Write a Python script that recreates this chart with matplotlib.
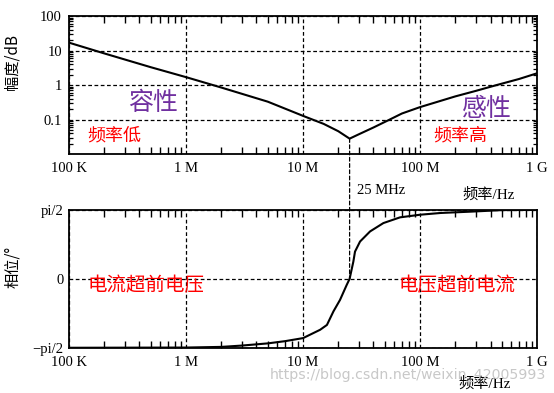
import numpy as np
import matplotlib.pyplot as plt
from matplotlib.patches import ConnectionPatch
from matplotlib.ticker import NullFormatter, FixedLocator

plt.rcParams['font.family'] = ['Liberation Serif', 'Noto Sans CJK SC', 'DejaVu Sans']

# magnitude curve
freq_mag = [1e5, 2e5, 5e5, 1e6, 2e6, 5e6, 1e7, 1.5e7, 2e7, 2.5e7,
            3e7, 4e7, 5.5e7, 7e7, 1e8, 2e8, 3e8, 4.5e8, 7e8, 1e9]
mag = [17, 8.3, 3.3, 1.7, 0.85, 0.33, 0.128, 0.075, 0.046, 0.028,
       0.0375, 0.059, 0.10, 0.15, 0.23, 0.47, 0.68, 1.0, 1.5, 2.2]

# phase curve (radians)
freq_ph = [1e5, 1e6, 2e6, 3e6, 5e6, 7e6, 1e7, 1.4e7, 1.6e7, 1.82e7, 2.07e7,
           2.36e7, 2.5e7, 2.69e7, 2.78e7, 3.07e7, 3.74e7, 4.86e7, 6.74e7, 1e8,
           1.5e8, 2.7e8, 5e8, 1e9]
phase = [-1.570, -1.565, -1.55, -1.52, -1.47, -1.42, -1.35, -1.16, -1.05, -0.74, -0.48,
         -0.14, 0.0, 0.39, 0.62, 0.85, 1.08, 1.27, 1.40, 1.46,
         1.50, 1.53, 1.565, 1.57]

xticks = [1e5, 1e6, 1e7, 1e8, 1e9]
xlabels = ['100 K', '1 M', '10 M', '100 M', '1 G']
mag_ticks = [0.1, 1, 10, 100]
mag_labels = ['0.1', '1', '10', '100']
ph_ticks = [-np.pi / 2, 0, np.pi / 2]
ph_labels = ['\u2212pi/2', '0', 'pi/2']
f_res = 2.5e7

cjk = ['Noto Sans CJK SC', 'DejaVu Sans']
dash = (0, (3, 2))

x_minor = [m * 10.0 ** e for e in range(5, 9) for m in range(2, 10)]
y_minor = [m * 10.0 ** e for e in range(-2, 2) for m in range(2, 10)]

fig = plt.figure(figsize=(5.54, 3.93), dpi=100)
ax1 = fig.add_axes([0.1245, 0.608, 0.845, 0.351])
ax2 = fig.add_axes([0.1245, 0.115, 0.845, 0.351])

for ax in (ax1, ax2):
    ax.set_xscale('log')
ax1.set_yscale('log')

# curves
ax1.plot(freq_mag, mag, color='black', linewidth=1.5)
ax2.plot(freq_ph, phase, color='black', linewidth=1.5)

for ax in (ax1, ax2):
    ax.set_xlim(1e5, 1e9)
    ax.set_xticks(xticks, xlabels, fontsize=10.5)
    ax.grid(True, which='major', color='black', linestyle=dash, linewidth=0.9)
    for s in ax.spines.values():
        s.set_linewidth(1.3)

ax1.set_ylim(0.01, 100)
ax1.set_yticks(mag_ticks, mag_labels, fontsize=10.5)
ax2.set_ylim(-np.pi / 2, np.pi / 2)
ax2.set_yticks(ph_ticks, ph_labels, fontsize=10.5)

# short inward minor ticks on the frame
for ax in (ax1, ax2):
    ax.xaxis.set_minor_locator(FixedLocator(x_minor))
    ax.xaxis.set_minor_formatter(NullFormatter())
    ax.tick_params(axis='x', which='minor', direction='in', length=5,
                   top=True, bottom=True, width=1.0, color='black', zorder=5)
    ax.tick_params(axis='x', which='major', length=0, pad=6)
ax1.yaxis.set_minor_locator(FixedLocator(y_minor))
ax1.yaxis.set_minor_formatter(NullFormatter())
ax1.tick_params(axis='y', which='minor', direction='in', length=3,
                left=True, right=True, width=0.9, color='black')
ax1.tick_params(axis='y', which='major', length=0, pad=5)
ax2.tick_params(axis='y', which='major', length=0, pad=4)
for ax in (ax1, ax2):
    ax.set_axisbelow(False)

ax1.text(3.2e5, 0.3, '容性', family=cjk, fontsize=18, color='#7030a0', va='center')
ax1.text(1.43e5, 0.035, '频率低', family=cjk, fontsize=13, color='red', va='center')
ax1.text(2.3e8, 0.2, '感性', family=cjk, fontsize=18, color='#7030a0', va='center')
ax1.text(1.3e8, 0.034, '频率高', family=cjk, fontsize=13, color='red', va='center')
ax2.text(1.43e5, -0.15, '电流超前电压', family=cjk, fontsize=14, color='red', va='center')
ax2.text(6.5e7, -0.15, '电压超前电流', family=cjk, fontsize=14, color='red', va='center')

# axis titles placed like the original
fig.text(0.022, 0.842, '幅度/dB', family=cjk, fontsize=11, rotation=90,
         ha='center', va='center')
fig.text(0.022, 0.32, '相位/°', family=cjk, fontsize=11, rotation=90,
         ha='center', va='center')

# resonance marker line running through both panels
con = ConnectionPatch(xyA=(f_res, min(mag)), coordsA=ax1.transData,
                      xyB=(f_res, 0), coordsB=ax2.transData,
                      color='black', linestyle=dash, linewidth=0.9)
fig.add_artist(con)

fig.text(0.644, 0.514, '25 MHz', fontsize=10.5, va='center')
fig.text(0.834, 0.504, '频率/Hz', fontsize=11, va='center')
fig.text(0.827, 0.025, '频率/Hz', fontsize=11, va='center')
fig.text(0.487, 0.046, 'https://blog.csdn.net/weixin_42005993',
         family=['DejaVu Sans'], fontsize=10.2, color='#c8c8c8', va='center')

fig.savefig('out.png', dpi=100, facecolor='white')
